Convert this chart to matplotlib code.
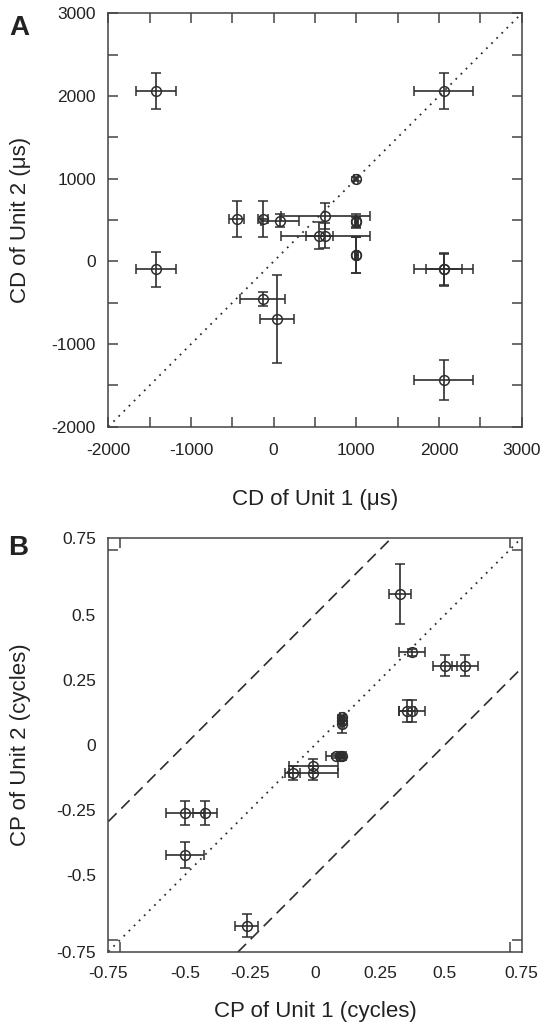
import numpy as np
import matplotlib
matplotlib.use('Agg')
import matplotlib.pyplot as plt
from matplotlib.ticker import FixedLocator, MultipleLocator

plt.rcParams['font.family'] = ['Liberation Sans', 'DejaVu Sans']
plt.rcParams['axes.unicode_minus'] = False

# panel A: characteristic delay (us)
cd_unit1 = [-1423, 2056, 1000, -447, -133, 77, 625, 1000, 1000, 552, 625, 1000, 1000,
            -1423, 2060, 2060, -133, 44, 2056]
cd_unit2 = [2065, 2065, 1000, 512, 512, 492, 552, 488, 480, 311, 311, 77, 77,
            -97, -97, -97, -456, -694, -1431]
cd_xerr = [242, 359, 25, 89, 60, 226, 540, 20, 20, 161, 536, 20, 20,
           242, 357, 218, 270, 206, 359]
cd_yerr = [218, 218, 25, 222, 222, 80, 160, 80, 60, 160, 150, 214, 214,
           210, 203, 190, 87, 532, 240]

# panel B: characteristic phase (cycles)
cp_unit1 = [0.326, 0.373, 0.499, 0.577, 0.354, 0.373, 0.103, 0.103, 0.103,
            0.081, 0.095, 0.103, -0.006, -0.006, -0.086, -0.5, -0.423, -0.5, -0.263]
cp_unit2 = [0.578, 0.355, 0.304, 0.304, 0.130, 0.130, 0.105, 0.092, 0.078,
            -0.042, -0.042, -0.042, -0.081, -0.108, -0.108, -0.264, -0.264, -0.424, -0.695]
cp_xerr = [0.043, 0.051, 0.046, 0.049, 0.03, 0.05, 0.008, 0.008, 0.008,
           0.04, 0.01, 0.008, 0.093, 0.093, 0.028, 0.073, 0.047, 0.073, 0.045]
cp_yerr = [0.115, 0.013, 0.041, 0.041, 0.042, 0.042, 0.01, 0.012, 0.034,
           0.008, 0.008, 0.008, 0.028, 0.028, 0.026, 0.046, 0.046, 0.049, 0.043]

cd_lim = [-2000, 3000]
cp_lim = [-0.795, 0.795]
cp_ticks = [-0.75, -0.5, -0.25, 0, 0.25, 0.5, 0.75]
cp_labels = ['-0.75', '-0.5', '-0.25', '0', '0.25', '0.5', '0.75']
cp_bands = [-0.5, 0.5]

ink = '#2e2e2e'
fig = plt.figure(figsize=(5.5, 10.29), dpi=100)
axA = fig.add_axes([0.197, 0.5853, 0.7515, 0.4017])
axB = fig.add_axes([0.197, 0.0752, 0.7515, 0.4021])

ebkw = dict(fmt='o', ms=7, mfc='none', mec=ink, mew=1.1, ecolor=ink,
            elinewidth=1.2, capsize=3.5, capthick=1.2, zorder=3)


def style_axes(ax):
    for s in ax.spines.values():
        s.set_color('#444444')
        s.set_linewidth(1.1)
    ax.tick_params(which='both', direction='in', top=True, right=True,
                   color='#444444', width=1.1, labelsize=12.5, labelcolor='#222222')


# ---- A ----
axA.plot(cd_lim, cd_lim, ls=(0, (1, 3)), color=ink, lw=1.3, zorder=1)
axA.errorbar(cd_unit1, cd_unit2, xerr=cd_xerr, yerr=cd_yerr, **ebkw)
axA.set_xlim(cd_lim)
axA.set_ylim(cd_lim)
axA.xaxis.set_major_locator(MultipleLocator(1000))
axA.yaxis.set_major_locator(MultipleLocator(1000))
axA.xaxis.set_minor_locator(MultipleLocator(500))
axA.yaxis.set_minor_locator(MultipleLocator(500))
style_axes(axA)
axA.tick_params(which='both', length=7)
axA.tick_params(axis='x', pad=12)
axA.tick_params(axis='y', pad=9)
axA.set_xlabel('CD of Unit 1 (μs)', fontsize=16, color='#222222')
axA.set_ylabel('CD of Unit 2 (μs)', fontsize=16, color='#222222')
axA.xaxis.set_label_coords(0.5, -0.15)
axA.yaxis.set_label_coords(-0.186, 0.5)

# ---- B ----
axB.plot(cp_lim, cp_lim, ls=(0, (1, 3)), color=ink, lw=1.3, zorder=1)
for off in cp_bands:
    axB.plot(cp_lim, np.array(cp_lim) + off, ls=(0, (7, 4)), color=ink, lw=1.2, zorder=1)
axB.errorbar(cp_unit1, cp_unit2, xerr=cp_xerr, yerr=cp_yerr, **ebkw)
axB.set_xlim(cp_lim)
axB.set_ylim(cp_lim)
# end labels sit on the frame edges, tick marks stay at +-0.75
label_pos = [cp_lim[0]] + cp_ticks[1:-1] + [cp_lim[1]]
for axis in (axB.xaxis, axB.yaxis):
    axis.set_major_locator(FixedLocator(label_pos))
    axis.set_minor_locator(FixedLocator(cp_ticks))
axB.set_xticklabels(cp_labels)
axB.set_yticklabels(cp_labels)
style_axes(axB)
axB.tick_params(which='major', length=0)
axB.tick_params(which='minor', length=7.5)
axB.tick_params(axis='x', which='major', pad=10)
axB.tick_params(axis='y', which='major', pad=9)
axB.set_xlabel('CP of Unit 1 (cycles)', fontsize=16, color='#222222')
axB.set_ylabel('CP of Unit 2 (cycles)', fontsize=16, color='#222222')
axB.xaxis.set_label_coords(0.5, -0.12)
axB.yaxis.set_label_coords(-0.186, 0.5)

fig.text(0.017, 0.966, 'A', fontsize=20, fontweight='bold', color='#222222')
fig.text(0.015, 0.4606, 'B', fontsize=20, fontweight='bold', color='#222222')

fig.savefig('out.png', dpi=100)
